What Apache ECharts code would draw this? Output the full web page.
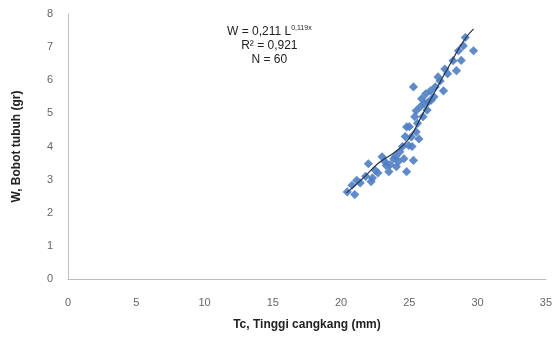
<!DOCTYPE html>
<html>
<head>
<meta charset="utf-8">
<script src="https://cdn.jsdelivr.net/npm/echarts@6/dist/echarts.min.js"></script>
<style>
  html, body { margin: 0; padding: 0; background: #fff; }
  #chart_div { width: 555px; height: 349px; }
</style>
</head>
<body>
<div id="chart_div"></div>
<script>
// Tinggi cangkang (mm) vs bobot tubuh (gr)
var tinggi = [
  20.45, 20.8, 21.15, 22.0, 22.2, 22.5, 23.0, 23.3, 23.5, 23.85,
  24.05, 24.3, 24.6, 24.8, 25.3, 24.8, 24.95, 25.15, 25.5, 25.7,
  25.5, 25.8, 25.9, 25.3, 26.2, 26.55, 26.8, 26.4, 26.9, 27.25,
  27.5, 27.1, 27.6, 28.2, 28.45, 28.6, 28.95, 29.1, 29.7, 21.0,
  21.4, 21.8, 22.3, 22.7, 23.2, 23.6, 24.0, 24.2, 24.5, 24.7,
  25.0, 25.2, 25.4, 25.6, 26.0, 26.1, 26.3, 26.6, 27.8, 28.8
]
var bobot = [
  2.63, 2.83, 2.98, 3.48, 2.94, 3.28, 3.69, 3.43, 3.24, 3.63,
  3.39, 3.84, 3.63, 3.24, 3.58, 4.59, 4.03, 4.29, 4.44, 4.23,
  5.08, 5.2, 5.44, 5.8, 5.59, 5.68, 5.5, 5.35, 5.8, 5.98,
  5.68, 6.1, 6.34, 6.59, 6.29, 6.89, 7.04, 7.29, 6.89, 2.55,
  2.9, 3.1, 3.05, 3.2, 3.55, 3.45, 3.7, 3.55, 4.0, 4.3,
  4.6, 4.0, 4.9, 4.7, 4.9, 5.3, 5.1, 5.4, 6.2, 6.6
]
// garis tren
var trenX = [20.4, 21.5, 22.75, 24, 25, 26, 27, 28, 29, 29.7]
var trenY = [2.6, 3.0, 3.5, 3.85, 4.25, 5.0, 5.75, 6.5, 7.2, 7.55]

var scatterData = []
for (var i = 0; i < tinggi.length; i++) {
  scatterData.push([tinggi[i], bobot[i]])
}
var trenData = []
for (var j = 0; j < trenX.length; j++) {
  trenData.push([trenX[j], trenY[j]])
}

var font = 'Liberation Sans, Arial, sans-serif'
var axisLine = { show: true, lineStyle: { color: '#bdbdbd', width: 1 } }

var option = {
  animation: false,
  grid: { left: 68, right: 7, top: 14, bottom: 70 },
  xAxis: {
    type: 'value',
    min: 0, max: 35, interval: 5,
    axisLine: axisLine,
    axisTick: { show: false },
    splitLine: { show: false },
    axisLabel: { color: '#666', fontSize: 11, fontFamily: font, margin: 18 },
    name: 'Tc, Tinggi cangkang (mm)',
    nameLocation: 'middle',
    nameGap: 40,
    nameTextStyle: { color: '#222', fontSize: 12, fontWeight: 'bold', fontFamily: font }
  },
  yAxis: {
    type: 'value',
    min: 0, max: 8, interval: 1,
    axisLine: axisLine,
    axisTick: { show: false },
    splitLine: { show: false },
    axisLabel: { color: '#666', fontSize: 11, fontFamily: font, margin: 15 },
    name: 'W, Bobot tubuh (gr)',
    nameLocation: 'middle',
    nameGap: 45,
    nameTextStyle: { color: '#222', fontSize: 12, fontWeight: 'bold', fontFamily: font }
  },
  graphic: [{
    type: 'text',
    left: 227, top: 25,
    style: {
      text: '{a|W = 0,211 L}{s|0,119x}\n{a|R² = 0,921}\n{a|N = 60}',
      align: 'center',
      fill: '#222',
      rich: {
        a: { fontSize: 12, fontFamily: font, color: '#222', lineHeight: 14, align: 'center' },
        s: { fontSize: 7, fontFamily: font, color: '#222', verticalAlign: 'top', lineHeight: 14, padding: [0, 0, 6, 0] }
      }
    }
  }],
  series: [{
    type: 'scatter',
    data: scatterData,
    symbol: 'rect',
    symbolRotate: 45,
    symbolSize: 6.5,
    itemStyle: { color: '#4f7ec3', opacity: 0.9 },
    z: 2
  }, {
    type: 'line',
    data: trenData,
    smooth: true,
    showSymbol: false,
    lineStyle: { color: '#24324f', width: 1.2 },
    z: 3
  }]
}

var myChart = echarts.init(document.getElementById('chart_div'))
myChart.setOption(option)
</script>
</body>
</html>
